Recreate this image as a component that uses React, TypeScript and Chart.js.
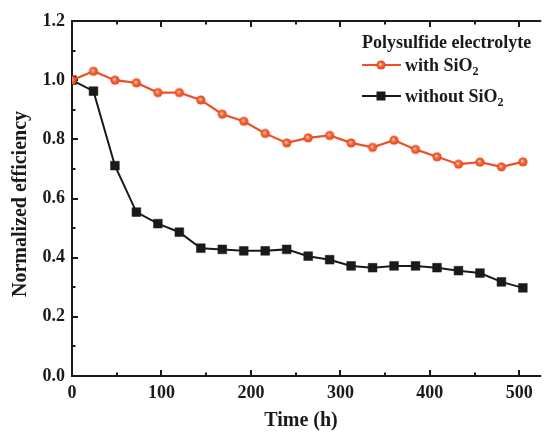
import React, { useEffect, useRef } from "react";
import { Chart, registerables } from "chart.js";

Chart.register(...registerables);

// ---- data ----
const timeHours = [0, 24, 48, 72, 96, 120, 144, 168, 192, 216, 240, 264, 288, 312, 336, 360, 384, 408, 432, 456, 480, 504];
const withSiO2 = [1.0, 1.03, 1.0, 0.991, 0.958, 0.958, 0.933, 0.885, 0.861, 0.82, 0.788, 0.805, 0.813, 0.788, 0.773, 0.797, 0.766, 0.741, 0.716, 0.723, 0.707, 0.724];
const withoutSiO2 = [1.0, 0.963, 0.711, 0.554, 0.515, 0.486, 0.432, 0.428, 0.423, 0.423, 0.428, 0.405, 0.393, 0.372, 0.366, 0.372, 0.372, 0.366, 0.356, 0.348, 0.318, 0.298];
const xTickValues = [0, 100, 200, 300, 400, 500];
const xMinorTicks = [50, 150, 250, 350, 450];
const yTickValues = [0, 0.2, 0.4, 0.6, 0.8, 1.0, 1.2];
const yMinorTicks = [0.1, 0.3, 0.5, 0.7, 0.9, 1.1];
const legendTitle = "Polysulfide electrolyte";
const seriesLabels = ["with SiO", "without SiO"];
const seriesSub = "2";
const xTitle = "Time (h)";
const yTitle = "Normalized efficiency";

const FONT = '"Liberation Serif", "Times New Roman", serif';
const RED = "#EF5026";
const BLACK = "#1a1a1a";

function makeSphere(r: number): HTMLCanvasElement {
  const s = Math.ceil(r * 2) + 2;
  const c = document.createElement("canvas");
  c.width = s;
  c.height = s;
  const g = c.getContext("2d")!;
  const cx = s / 2;
  const cy = s / 2;
  const grad = g.createRadialGradient(cx - 0.8, cy - 0.8, 0.3, cx, cy, r);
  grad.addColorStop(0, "#ffd8c4");
  grad.addColorStop(0.35, "#f5703f");
  grad.addColorStop(1, "#e2421b");
  g.fillStyle = grad;
  g.beginPath();
  g.arc(cx, cy, r, 0, Math.PI * 2);
  g.fill();
  return c;
}

export default function App() {
  const ref = useRef<HTMLCanvasElement | null>(null);

  useEffect(() => {
    if (!ref.current) return;
    const sphere = makeSphere(4.6);

    const framePlugin = {
      id: "frame",
      beforeDatasetsDraw(chart: any) {
        const { ctx, chartArea, scales } = chart;
        const { left, top, right, bottom } = chartArea;
        const x = scales.x;
        const y = scales.y;
        ctx.save();
        ctx.strokeStyle = BLACK;
        ctx.lineWidth = 2;
        ctx.beginPath();
        ctx.moveTo(right + 4, top);
        ctx.lineTo(left, top);
        ctx.lineTo(left, bottom);
        ctx.lineTo(right + 4, bottom);
        ctx.stroke();
        ctx.beginPath();
        for (const v of xTickValues) {
          const px = Math.round(x.getPixelForValue(v));
          ctx.moveTo(px, bottom);
          ctx.lineTo(px, bottom - 6);
          ctx.moveTo(px, top);
          ctx.lineTo(px, top + 6);
        }
        for (const v of xMinorTicks) {
          const px = Math.round(x.getPixelForValue(v));
          ctx.moveTo(px, bottom);
          ctx.lineTo(px, bottom - 3.5);
          ctx.moveTo(px, top);
          ctx.lineTo(px, top + 3.5);
        }
        for (const v of yTickValues) {
          const py = Math.round(y.getPixelForValue(v));
          ctx.moveTo(left, py);
          ctx.lineTo(left + 6, py);
        }
        for (const v of yMinorTicks) {
          const py = Math.round(y.getPixelForValue(v));
          ctx.moveTo(left, py);
          ctx.lineTo(left + 3.5, py);
        }
        ctx.stroke();
        ctx.restore();
      },
      afterDraw(chart: any) {
        const { ctx } = chart;
        ctx.save();
        ctx.fillStyle = BLACK;
        // axis titles
        ctx.font = `bold 20px ${FONT}`;
        ctx.textAlign = "center";
        ctx.textBaseline = "middle";
        ctx.fillText(xTitle, 301, 421);
        ctx.save();
        ctx.translate(21, 204);
        ctx.rotate(-Math.PI / 2);
        ctx.fillText(yTitle, 0, 0);
        ctx.restore();

        // legend
        ctx.textAlign = "left";
        ctx.textBaseline = "alphabetic";
        ctx.font = `bold 18px ${FONT}`;
        ctx.fillText(legendTitle, 362, 48);

        const rows = [
          { y: 65, color: RED, label: seriesLabels[0], marker: "sphere" },
          { y: 96, color: BLACK, label: seriesLabels[1], marker: "square" },
        ];
        for (const r of rows) {
          ctx.strokeStyle = r.color;
          ctx.lineWidth = 2.2;
          ctx.beginPath();
          ctx.moveTo(362, r.y);
          ctx.lineTo(401, r.y);
          ctx.stroke();
          if (r.marker === "sphere") {
            ctx.drawImage(sphere, 381 - sphere.width / 2, r.y - sphere.height / 2);
          } else {
            ctx.fillStyle = BLACK;
            ctx.fillRect(381 - 4.5, r.y - 4.5, 9, 9);
          }
          ctx.fillStyle = BLACK;
          ctx.font = `bold 18px ${FONT}`;
          ctx.fillText(r.label, 405, r.y + 6);
          const w = ctx.measureText(r.label).width;
          ctx.font = `bold 12px ${FONT}`;
          ctx.fillText(seriesSub, 405 + w, r.y + 10);
        }
        ctx.restore();
      },
    };

    const chart = new Chart(ref.current, {
      type: "line",
      data: {
        datasets: [
          {
            label: "with SiO2",
            data: timeHours.map((t, i) => ({ x: t, y: withSiO2[i] })),
            borderColor: RED,
            backgroundColor: RED,
            borderWidth: 2.2,
            pointStyle: sphere as any,
            pointRadius: 4.6,
            tension: 0,
          },
          {
            label: "without SiO2",
            data: timeHours.map((t, i) => ({ x: t, y: withoutSiO2[i] })),
            borderColor: BLACK,
            backgroundColor: BLACK,
            borderWidth: 2,
            pointStyle: "rect",
            pointRadius: 6.2,
            pointBorderWidth: 0.5,
            tension: 0,
          },
        ],
      },
      options: {
        animation: false,
        responsive: false,
        maintainAspectRatio: false,
        layout: { padding: { top: 21, right: 0, left: 0, bottom: 0 } },
        plugins: {
          legend: { display: false },
          tooltip: { enabled: false },
        },
        scales: {
          x: {
            type: "linear",
            min: 0,
            max: 520,
            afterBuildTicks: (s: any) => {
              s.ticks = xTickValues.map((v) => ({ value: v }));
            },
            afterFit: (s: any) => {
              s.height = 57;
            },
            grid: { display: false, drawTicks: false },
            border: { display: false },
            ticks: {
              color: BLACK,
              font: { family: FONT, size: 18, weight: "bold" },
              padding: 7,
              maxRotation: 0,
              autoSkip: false,
            },
          },
          y: {
            type: "linear",
            min: 0,
            max: 1.2,
            afterBuildTicks: (s: any) => {
              s.ticks = yTickValues.map((v) => ({ value: v }));
            },
            afterFit: (s: any) => {
              s.width = 72;
            },
            grid: { display: false, drawTicks: false },
            border: { display: false },
            ticks: {
              color: BLACK,
              font: { family: FONT, size: 18, weight: "bold" },
              padding: 7,
              callback: (v: any) => Number(v).toFixed(1),
            },
          },
        },
      },
      plugins: [framePlugin],
    });
    return () => chart.destroy();
  }, []);

  return (
    <div style={{ position: "absolute", left: 0, top: 0, width: 544, height: 433, background: "#fff" }}>
      <canvas ref={ref} width={544} height={433} style={{ display: "block" }} />
    </div>
  );
}
